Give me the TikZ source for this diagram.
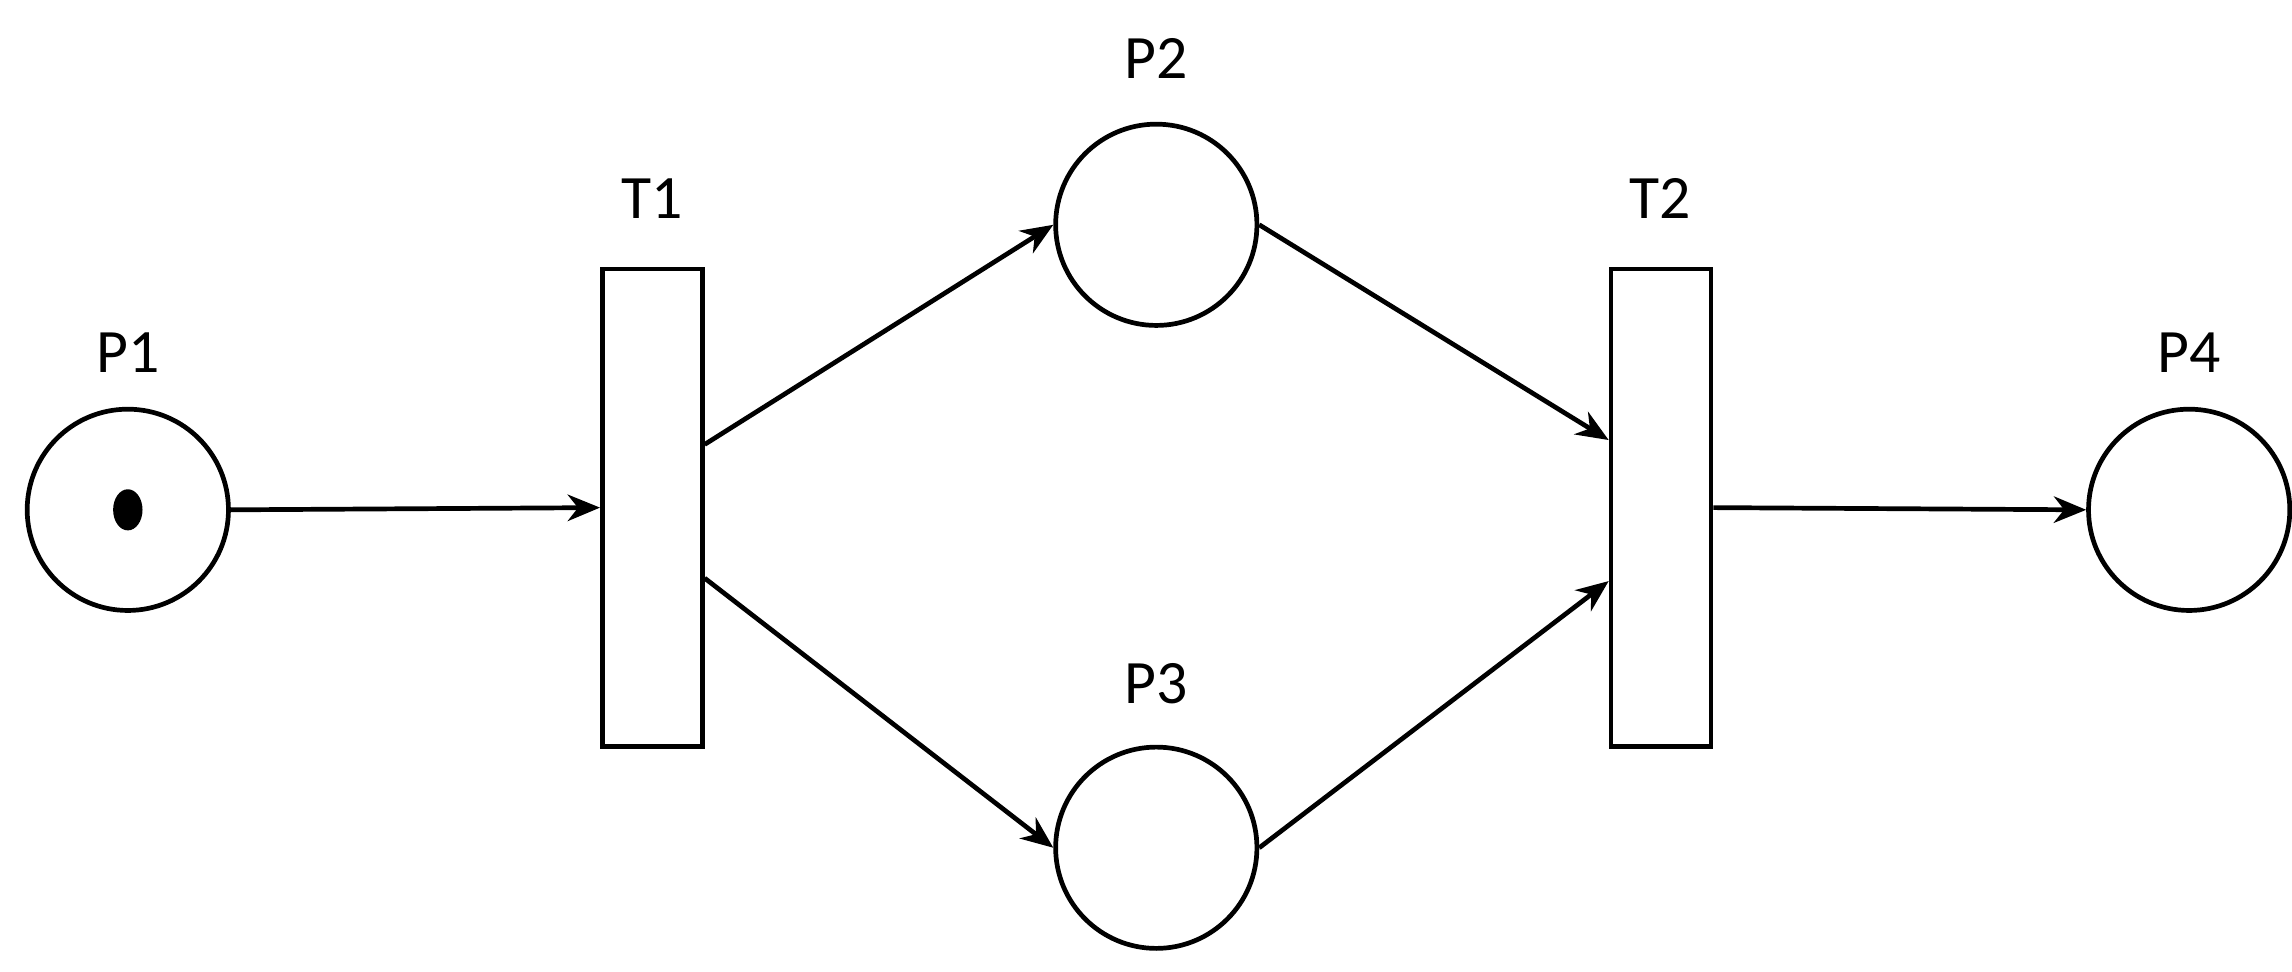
\documentclass[tikz,border=0pt]{standalone}
\usepackage{fontspec}
\setmainfont{Carlito}
\usetikzlibrary{arrows.meta,calc}
\begin{document}
\begin{tikzpicture}[x=1pt,y=-1pt,line width=3.2pt,
  place/.style={circle,draw,minimum size=137pt,inner sep=0pt},
  trans/.style={rectangle,draw,minimum width=68pt,minimum height=325pt,inner sep=0pt},
  lab/.style={font=\fontsize{42}{42}\selectfont},
  arc/.style={-{Stealth[length=22pt,width=18pt,inset=7pt]}}]
\useasboundingbox (0,0) rectangle (1560,661);
\node[place] (p1) at (87,347) {};
\node[place] (p2) at (787,153) {};
\node[place] (p3) at (787,577) {};
\node[place] (p4) at (1490,347) {};
\node[trans] (t1) at (444,345.5) {};
\node[trans] (t2) at (1130.5,345.5) {};
\fill (87,347) ellipse (10pt and 14pt);
\node[lab] (l1) at (87,240) {P1};
\node[lab] (l2) at (787,40) {P2};
\node[lab] (l3) at (787,465) {P3};
\node[lab] (l4) at (1490,240) {P4};
\node[lab] (lt1) at (444,135) {T1};
\node[lab] (lt2) at (1130,135) {T2};
\coordinate (t1a) at ($(t1.east)+(0,-43)$);
\coordinate (t1b) at ($(t1.east)+(0,48)$);
\coordinate (t2a) at ($(t2.west)+(0,-46)$);
\coordinate (t2b) at ($(t2.west)+(0,50)$);
\draw[arc] (p1.east) -- (t1.west);
\draw[arc] (t1a) -- (p2.west);
\draw[arc] (t1b) -- (p3.west);
\draw[arc] (p2.east) -- (t2a);
\draw[arc] (p3.east) -- (t2b);
\draw[arc] (t2.east) -- (p4.west);
\end{tikzpicture}
\end{document}
